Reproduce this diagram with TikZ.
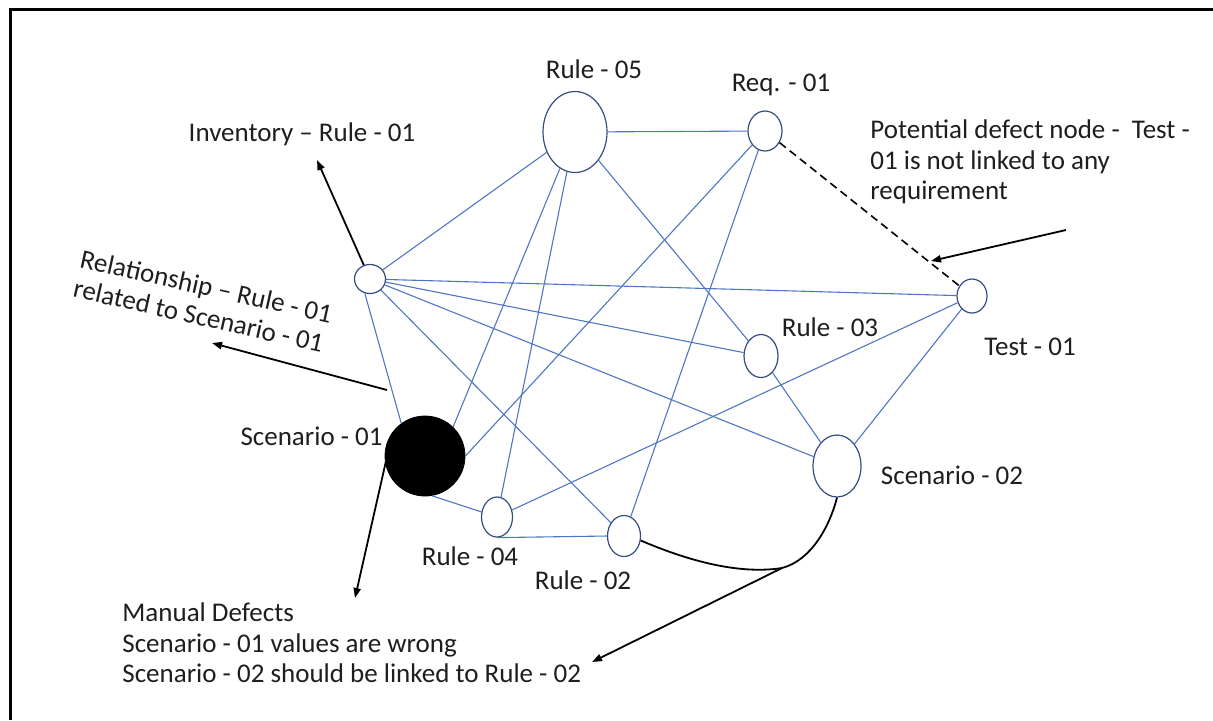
\documentclass[tikz,border=0pt]{standalone}
\usepackage{fontspec}
\setmainfont{Carlito}
\usetikzlibrary{shapes.geometric,arrows.meta}
\definecolor{edgeblue}{RGB}{80,118,195}
\definecolor{rim}{RGB}{52,78,130}
\definecolor{ink}{RGB}{30,30,30}
\begin{document}
\begin{tikzpicture}[x=0.5pt,y=-0.5pt,
  every node/.style={font=\fontsize{13.5}{15.3}\selectfont,text=ink},
  vert/.style={ellipse,draw=rim,line width=0.6pt,fill=white,inner sep=0pt},
  link/.style={draw=edgeblue,line width=0.55pt},
  callout/.style={draw=black,line width=0.9pt,-{Triangle[length=5pt,width=3.6pt]}},
  caption/.style={inner sep=0pt,align=left}]
\useasboundingbox (0,0) rectangle (1213,720);
% frame
\draw[line width=1.5pt] (10,720) -- (10,9) -- (1213,9);

% graph vertices
\node[vert,minimum width=32pt,minimum height=40.5pt] (r5) at (575,132) {};
\node[vert,minimum width=17pt,minimum height=20pt] (q1) at (765,131) {};
\node[vert,minimum width=15.5pt,minimum height=14.5pt] (r1) at (370,279) {};
\node[vert,minimum width=15pt,minimum height=17pt] (t1) at (972,296) {};
\node[vert,minimum width=17pt,minimum height=21.5pt] (r3) at (761,356) {};
\node[vert,minimum width=24pt,minimum height=31pt] (s2) at (837,466) {};
\node[vert,minimum width=15.5pt,minimum height=20pt] (r4) at (497,517) {};
\node[vert,minimum width=16.5pt,minimum height=20.5pt] (r2) at (624,536) {};
\node[circle,fill=black,draw=black,minimum size=40pt,inner sep=0pt] (s1) at (425,456) {};

% links between vertices
\draw[link] (r1) -- (r5);
\draw[link] (r5) -- (q1);
\draw[link] (r5) -- (s1.46);
\draw[link] (r5) -- (r4);
\draw[link] (r5) -- (r3);
\draw[link] (q1) -- (s1.east);
\draw[link] (q1) -- (r2);
\draw[link] (r1) -- (t1);
\draw[link] (r1) -- (r3);
\draw[link] (r1) -- (s2);
\draw[link] (r1) -- (r2);
\draw[link] (r1.-110) -- (s1.126);
\draw[link] (t1) -- (r4);
\draw[link] (t1) -- (s2);
\draw[link] (r3) -- (s2);
\draw[link] (s1.-80) -- (r4);
\draw[link] (r4.south) -- (r2.west);
\draw[black,line width=0.8pt,dashed,dash pattern=on 4pt off 2.5pt] (q1) -- (t1);

% vertex labels
\node (lr5) at (594,69) {Rule - 05};
\node (lq1) at (781,85) {Req. - 01};
\node (lr3) at (830,327) {Rule - 03};
\node (lt1) at (1030,347) {Test - 01};
\node (ls2) at (952,475) {Scenario - 02};
\node[anchor=east,inner sep=0pt] (ls1) at (383,436) {Scenario - 01};
\node (lr4) at (470,556) {Rule - 04};
\node (lr2) at (583,580) {Rule - 02};

% annotations
\node (linv) at (302,134) {Inventory – Rule - 01};
\node[caption,anchor=west] (lpot) at (870,162)
  {Potential defect node -~ Test -\\01 is not linked to any\\requirement};
\node[caption,rotate=-12.6] (lrel) at (203,301)
  {Relationship – Rule - 01\\related to Scenario - 01};
\node[caption,anchor=west] (lmd) at (122,643)
  {Manual Defects\\Scenario - 01 values are wrong\\Scenario - 02 should be linked to Rule - 02};

% callout arrows
\coordinate (invtip) at (317,160);
\coordinate (relfoot) at (387,390);
\coordinate (reltip) at (212,343);
\coordinate (potfoot) at (1066,230);
\coordinate (pottip) at (931,261);
\coordinate (s1foot) at (386,461);
\coordinate (s1tip) at (355,598);
\coordinate (j) at (782,568);
\coordinate (jtip) at (592,662);
\draw[callout] (r1) -- (invtip);
\draw[callout] (relfoot) -- (reltip);
\draw[callout] (potfoot) -- (pottip);
\draw[callout] (s1foot) -- (s1tip);
\draw[black,line width=0.9pt] (r2.-15) .. controls (705,568) and (750,573) .. (j)
  .. controls (812,560) and (830,525) .. (s2.south);
\draw[callout] (j) -- (jtip);
\end{tikzpicture}
\end{document}
